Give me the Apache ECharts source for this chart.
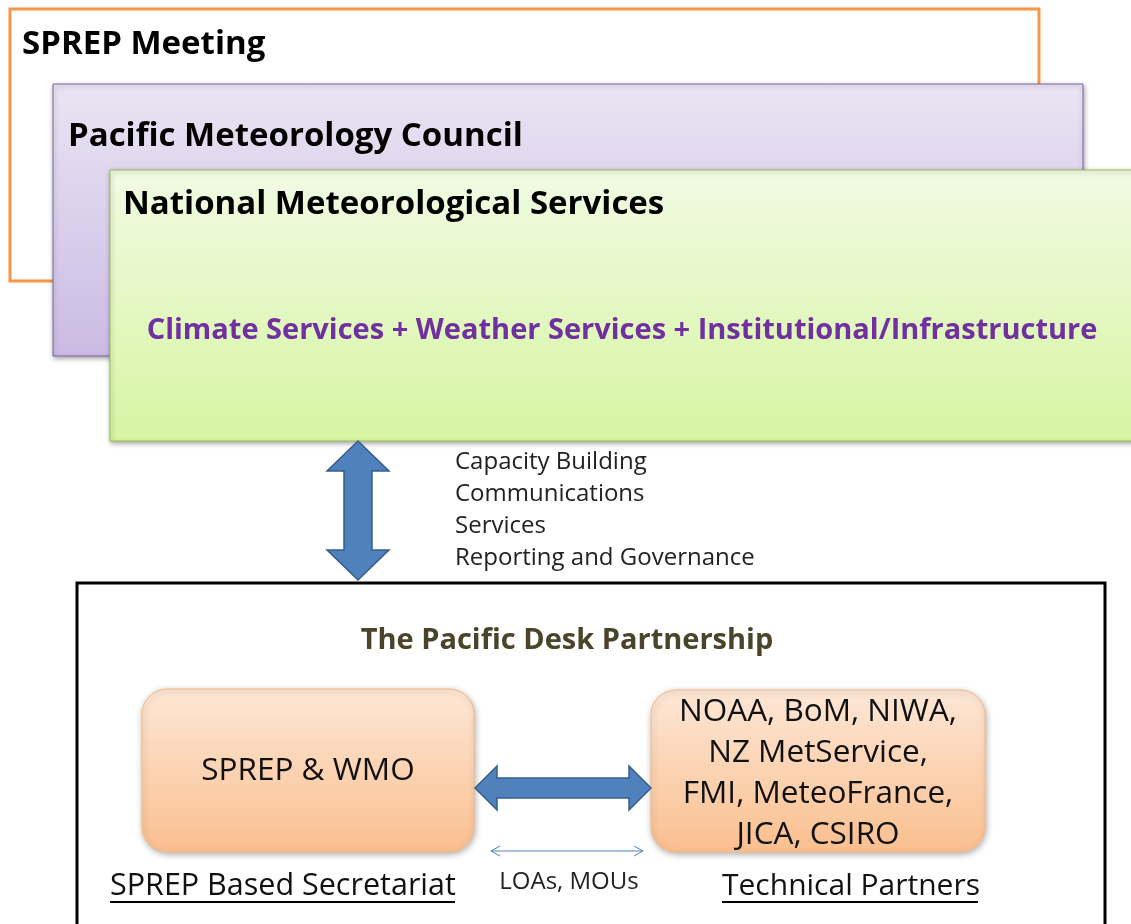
<!DOCTYPE html>
<html>
<head>
<meta charset="utf-8">
<script src="https://cdn.jsdelivr.net/npm/echarts@6/dist/echarts.min.js"></script>
<style>
  html, body { margin: 0; padding: 0; background: #fff; }
  #main { width: 1131px; height: 924px; }
</style>
</head>
<body>
<div id="main"></div>
<script>
// 层级标题
var levelTitles = ['SPREP Meeting', 'Pacific Meteorology Council', 'National Meteorological Services'];
var nmsServices = 'Climate Services + Weather Services + Institutional/Infrastructure';
// 连接说明
var linkItems = ['Capacity Building', 'Communications', 'Services', 'Reporting and Governance'];
// 伙伴关系
var deskTitle = 'The Pacific Desk Partnership';
var secretariat = ['SPREP & WMO'];
var partners = ['NOAA, BoM, NIWA,', 'NZ MetService,', 'FMI, MeteoFrance,', 'JICA, CSIRO'];
var bottomLabels = ['SPREP Based Secretariat', 'LOAs, MOUs', 'Technical Partners'];

var FONT = '"Open Sans", Lato, sans-serif';
var blue = '#4F81BD', blueDark = '#385D8A';

function grad(c1, c2) {
    return new echarts.graphic.LinearGradient(0, 0, 0, 1, [
        { offset: 0, color: c1 },
        { offset: 1, color: c2 }
    ]);
}
function txt(s, x, y, size, weight, color, align) {
    return {
        type: 'text',
        style: {
            text: s, x: x, y: y,
            font: weight + ' ' + size + 'px ' + FONT,
            fill: color,
            textAlign: align || 'left',
            textVerticalAlign: 'middle'
        }
    };
}

var els = [];

// 外层框
els.push({ type: 'rect', shape: { x: 10, y: 9, width: 1029, height: 272 },
    style: { fill: '#fff', stroke: '#F79646', lineWidth: 3 } });
els.push(txt(levelTitles[0], 22, 45, 33, 'bold', '#000'));

els.push({ type: 'rect', shape: { x: 53, y: 84, width: 1030, height: 272 },
    style: { fill: grad('#EAE4F3', '#CBBBE4'), stroke: '#8064A2', lineWidth: 1,
        shadowBlur: 5, shadowColor: 'rgba(0,0,0,0.35)', shadowOffsetX: 1, shadowOffsetY: 2 } });
els.push(txt(levelTitles[1], 68, 137, 33, 'bold', '#000'));

els.push({ type: 'rect', shape: { x: 110, y: 170, width: 1030, height: 271 },
    style: { fill: grad('#F1FBE3', '#D6F5A2'), stroke: '#9BBB59', lineWidth: 1,
        shadowBlur: 5, shadowColor: 'rgba(0,0,0,0.35)', shadowOffsetX: 1, shadowOffsetY: 2 } });
els.push(txt(levelTitles[2], 123, 205, 33, 'bold', '#000'));
els.push(txt(nmsServices, 622, 331, 29, 'bold', '#7030A0', 'center'));

// 竖向双箭头
els.push({ type: 'polygon', shape: { points: [
        [358, 441], [389, 471], [372, 471], [372, 550], [389, 550],
        [358, 580], [327, 550], [344, 550], [344, 471], [327, 471]
    ] },
    style: { fill: blue, stroke: blueDark, lineWidth: 1.5 } });

linkItems.forEach(function (s, i) {
    els.push(txt(s, 455, 462 + i * 32, 24, 'normal', '#222'));
});

// 下方黑框
els.push({ type: 'rect', shape: { x: 77, y: 583, width: 1028, height: 360 },
    style: { fill: '#fff', stroke: '#000', lineWidth: 3 } });
els.push(txt(deskTitle, 567, 641, 29, 'bold', '#4A452A', 'center'));

// 圆角框
var boxStyle = {
    fill: grad('#FDE7D6', '#FABF8F'), stroke: '#F9B984', lineWidth: 1,
    shadowBlur: 6, shadowColor: 'rgba(0,0,0,0.3)', shadowOffsetX: 1, shadowOffsetY: 2
};
els.push({ type: 'rect', shape: { x: 142, y: 689, width: 332, height: 163, r: 25 }, style: boxStyle });
els.push({ type: 'rect', shape: { x: 651, y: 690, width: 334, height: 162, r: 25 }, style: boxStyle });
els.push(txt(secretariat[0], 308, 771, 31.5, 'normal', '#111', 'center'));
partners.forEach(function (s, i) {
    els.push(txt(s, 818, 712 + i * 41, 31.5, 'normal', '#111', 'center'));
});

// 横向双箭头
els.push({ type: 'polygon', shape: { points: [
        [475, 788], [497, 766], [497, 778], [629, 778], [629, 766],
        [651, 788], [629, 810], [629, 798], [497, 798], [497, 810]
    ] },
    style: { fill: blue, stroke: blueDark, lineWidth: 1.5 } });

// 细箭头
els.push({ type: 'polyline', shape: { points: [[491, 851], [643, 851]] },
    style: { stroke: blue, lineWidth: 1 } });
els.push({ type: 'polyline', shape: { points: [[500, 846], [491, 851], [500, 856]] },
    style: { stroke: blue, lineWidth: 1, fill: null } });
els.push({ type: 'polyline', shape: { points: [[634, 846], [643, 851], [634, 856]] },
    style: { stroke: blue, lineWidth: 1, fill: null } });

els.push(txt(bottomLabels[1], 569, 882, 24, 'normal', '#222', 'center'));
els.push(txt(bottomLabels[0], 110, 886, 30.5, 'normal', '#111'));
els.push({ type: 'line', shape: { x1: 110, y1: 902, x2: 455, y2: 902 }, style: { stroke: '#000', lineWidth: 2 } });
els.push(txt(bottomLabels[2], 722, 886, 30, 'normal', '#111'));
els.push({ type: 'line', shape: { x1: 722, y1: 902, x2: 978, y2: 902 }, style: { stroke: '#000', lineWidth: 2 } });

var chart = echarts.init(document.getElementById('main'), null, { renderer: 'canvas' });
chart.setOption({
    backgroundColor: '#fff',
    animation: false,
    graphic: { elements: els }
});
window.onresize = function () { chart.resize(); };
</script>
</body>
</html>
